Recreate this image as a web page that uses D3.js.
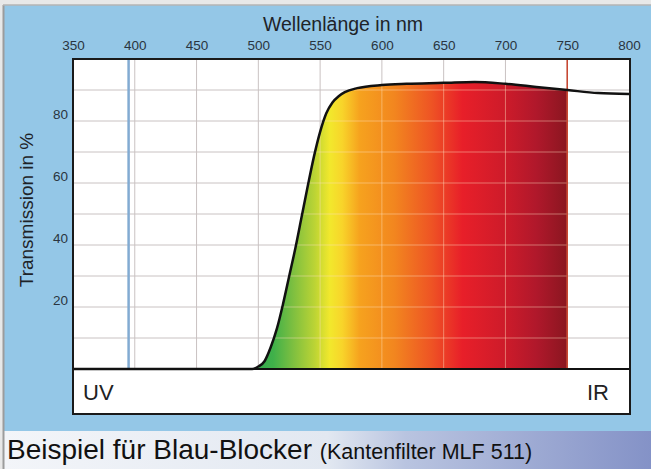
<!DOCTYPE html>
<html>
<head>
<meta charset="utf-8">
<script src="https://d3js.org/d3.v7.min.js"></script>
<style>
  body{ margin:0; background:#e8e8e8; }
  text{ font-family:"Liberation Sans", Arial, sans-serif; }
</style>
</head>
<body>
<svg id="chart" width="651" height="469"></svg>
<script>
// data
let wavelengths = [350,400,450,495,500,505,510,515,520,525,530,535,540,545,550,555,560,565,570,580,600,620,650,675,700,725,750,775,800];
let transmission = [0,0,0,0,0.8,2.5,7,13,21,30,39,49,59,68.5,76.5,82.5,86,88,89.3,90.6,91.6,92,92.3,92.6,92,91,90,89,88.7];
let xTicks = [350,400,450,500,550,600,650,700,750,800];
let yTicks = [20,40,60,80];
let gridY = [10,20,30,40,50,60,70,80,90];
let spectrumNm = [498,512,528,545,558,568,582,610,640,665,700,725,750];
let spectrumCol = ["#34aa4e","#3fb04a","#7dbf40","#b9d335","#f2e82c","#f8d42a","#f6a21e","#f2861f","#ee5424","#e81f29","#cd1b2a","#b0182b","#8a1620"];
let uvLine = 395, irLine = 750;

let svg = d3.select("#chart");
let x = d3.scaleLinear().domain([350,800]).range([73,629]);
let y = d3.scaleLinear().domain([0,100]).range([369,59]);

// background panels
svg.append("rect").attr("x",0).attr("y",0).attr("width",651).attr("height",469).attr("fill","#e8e8e8");
svg.append("rect").attr("x",4).attr("y",5).attr("width",647).attr("height",426).attr("fill","#94c7e7");
let defs = svg.append("defs");
let cap = defs.append("linearGradient").attr("id","cap");
cap.append("stop").attr("offset","0").attr("stop-color","#f3f5f9");
cap.append("stop").attr("offset","0.5").attr("stop-color","#e2e8f1");
cap.append("stop").attr("offset","0.62").attr("stop-color","#b9c4e0");
cap.append("stop").attr("offset","1").attr("stop-color","#8492c7");
svg.append("rect").attr("x",4).attr("y",431).attr("width",647).attr("height",38).attr("fill","url(#cap)");
svg.append("line").attr("x1",3.5).attr("x2",3.5).attr("y1",5).attr("y2",469).attr("stroke","#9c9c9c").attr("stroke-width",2);
svg.append("line").attr("x1",3).attr("x2",651).attr("y1",5).attr("y2",5).attr("stroke","#b4b4b4").attr("stroke-width",1.5);

// plot box
svg.append("rect").attr("x",73).attr("y",59).attr("width",557).attr("height",355).attr("fill","#fff");

let data = wavelengths.map((w,i) => ({w:w, t:transmission[i]}));

// grid
let grid = svg.append("g").attr("stroke","#c9c2c2").attr("stroke-width",1);
grid.selectAll(".gv").data(xTicks.slice(1,-1)).enter().append("line")
  .attr("x1",d=>x(d)).attr("x2",d=>x(d)).attr("y1",59).attr("y2",369);
grid.selectAll(".gh").data(gridY).enter().append("line")
  .attr("x1",73).attr("x2",630).attr("y1",d=>y(d)).attr("y2",d=>y(d));

// spectrum fill under the curve
let spec = defs.append("linearGradient").attr("id","spec").attr("gradientUnits","userSpaceOnUse")
  .attr("x1",x(498)).attr("x2",x(750)).attr("y1",0).attr("y2",0);
spectrumNm.forEach((n,i) => {
  spec.append("stop").attr("offset",(n-498)/(750-498)).attr("stop-color",spectrumCol[i]);
});
let area = d3.area().x(d=>x(d.w)).y0(y(0)).y1(d=>y(d.t)).curve(d3.curveMonotoneX);
let fillData = data.filter(d => d.w >= 495 && d.w <= 750);
defs.append("clipPath").attr("id","fillclip").append("path").attr("d",area(fillData));
svg.append("path").attr("d",area(fillData)).attr("fill","url(#spec)");

// lighter grid over the coloured part
let grid2 = svg.append("g").attr("clip-path","url(#fillclip)").attr("stroke","rgba(255,225,190,0.45)").attr("stroke-width",1);
grid2.selectAll("line.v").data(xTicks.slice(1,-1)).enter().append("line")
  .attr("x1",d=>x(d)).attr("x2",d=>x(d)).attr("y1",59).attr("y2",369);
grid2.selectAll("line.h").data(gridY).enter().append("line")
  .attr("x1",73).attr("x2",630).attr("y1",d=>y(d)).attr("y2",d=>y(d));

// UV / IR marker lines
svg.append("line").attr("x1",x(uvLine)).attr("x2",x(uvLine)).attr("y1",59).attr("y2",369)
  .attr("stroke","#82abd2").attr("stroke-width",2.5);
svg.append("line").attr("x1",x(irLine)).attr("x2",x(irLine)).attr("y1",59).attr("y2",369)
  .attr("stroke","#c8442e").attr("stroke-width",1.5);

// transmission curve
let line = d3.line().x(d=>x(d.w)).y(d=>y(d.t)).curve(d3.curveMonotoneX);
svg.append("path").attr("d",line(data)).attr("fill","none").attr("stroke","#111").attr("stroke-width",2.5);

// baseline and frame
svg.append("line").attr("x1",73).attr("x2",630).attr("y1",369).attr("y2",369).attr("stroke","#111").attr("stroke-width",2);
svg.append("rect").attr("x",73).attr("y",59).attr("width",557).attr("height",355)
  .attr("fill","none").attr("stroke","#1a1a1a").attr("stroke-width",2);

// axes (top and left, labels only)
let xAxis = d3.axisTop(x).tickValues(xTicks).tickSize(0).tickPadding(0);
let gx = svg.append("g").attr("transform","translate(0,50)").call(xAxis);
gx.select(".domain").remove();
gx.selectAll("text").attr("font-size",13.5).attr("fill","#2a3540").attr("font-family","Liberation Sans, Arial, sans-serif");

let yAxis = d3.axisLeft(y).tickValues(yTicks).tickSize(0).tickPadding(5);
let gy = svg.append("g").attr("transform","translate(73,-7)").call(yAxis);
gy.select(".domain").remove();
gy.selectAll("text").attr("font-size",13.5).attr("fill","#2a3540").attr("font-family","Liberation Sans, Arial, sans-serif");

// titles
svg.append("text").attr("x",343).attr("y",31).attr("text-anchor","middle")
  .attr("font-size",19.5).attr("fill","#1e2328").text("Wellenlänge in nm");
svg.append("text").attr("transform","translate(33,210) rotate(-90)").attr("text-anchor","middle")
  .attr("font-size",19).attr("fill","#1e2328").text("Transmission in %");

svg.append("text").attr("x",83).attr("y",400).attr("font-size",22).attr("fill","#222").text("UV");
svg.append("text").attr("x",609).attr("y",400).attr("text-anchor","end").attr("font-size",22).attr("fill","#222").text("IR");

let c = svg.append("text").attr("x",7).attr("y",459).attr("fill","#111");
c.append("tspan").attr("font-size",28).text("Beispiel für Blau-Blocker ");
c.append("tspan").attr("font-size",21.5).text("(Kantenfilter MLF 511)");
</script>
</body>
</html>
